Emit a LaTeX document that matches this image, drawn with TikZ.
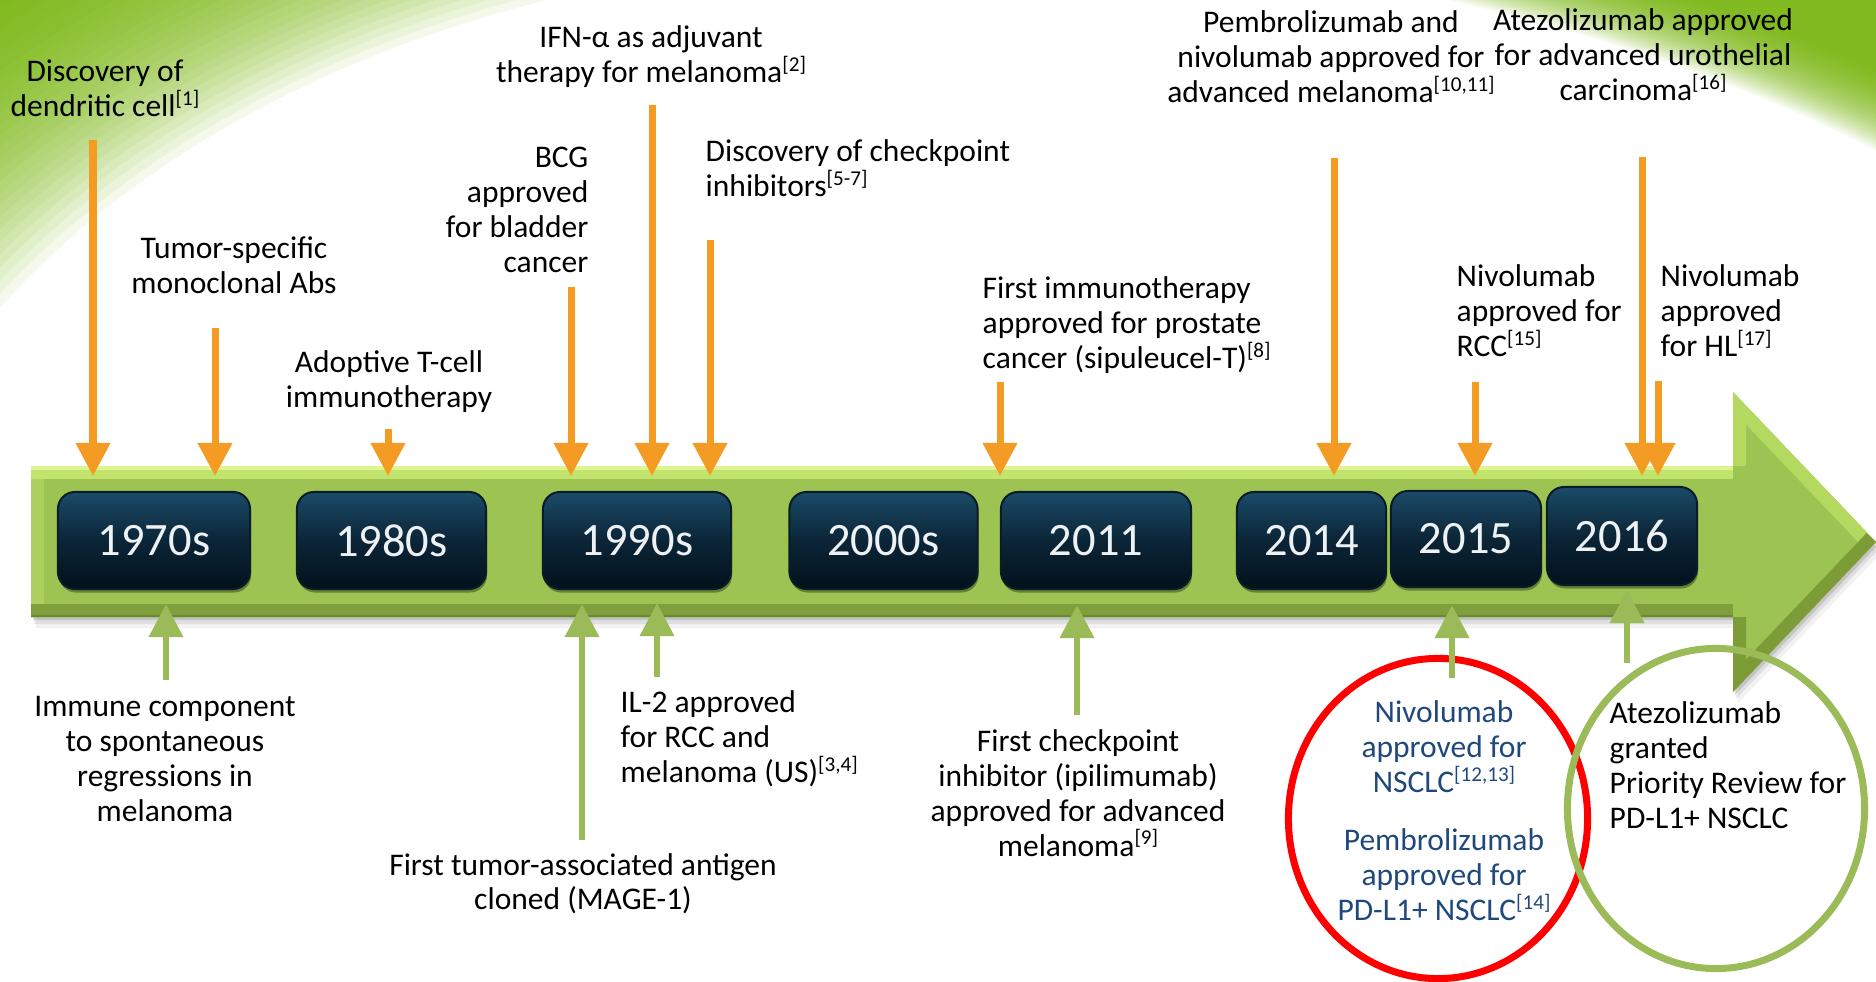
\documentclass[tikz,border=0pt]{standalone}
\usepackage{fontspec}
\setmainfont{Carlito}
\usetikzlibrary{arrows.meta,shadows,shapes.geometric}
\definecolor{orangeC}{HTML}{F39B22}
\definecolor{greenA}{HTML}{9BBB59}
\definecolor{bodyC}{HTML}{9DC452}
\definecolor{bevTop}{HTML}{C2E36C}
\definecolor{bevTopEdge}{HTML}{DDF590}
\definecolor{bevLeft}{HTML}{ADD05E}
\definecolor{bevBot}{HTML}{7E9F3C}
\definecolor{bevBotEdge}{HTML}{6A8A30}
\definecolor{headUp}{HTML}{B3D961}
\definecolor{headDown}{HTML}{7C9C38}
\definecolor{boxTop}{HTML}{1B4B68}
\definecolor{boxMid}{HTML}{0B2537}
\definecolor{boxBot}{HTML}{03111B}
\definecolor{boxLine}{HTML}{0A1C28}
\definecolor{yearTxt}{HTML}{EDF1F3}
\definecolor{blueTxt}{HTML}{1F497D}
\definecolor{redC}{HTML}{FF0000}
\definecolor{swdeep}{HTML}{6FB000}
\newcommand\rf[1]{\raisebox{3.2pt}{\fontsize{6}{7}\selectfont[#1]}}
\tikzset{
  txt/.style={font=\fontsize{8.96}{9.87}\selectfont, inner sep=0pt, align=center, anchor=base},
  txtl/.style={txt, align=left, anchor=base west},
  txtr/.style={txt, align=right, anchor=base east},
  yearbox/.style={rounded corners=0.17cm, draw=boxLine, line width=0.02cm, top color=boxTop, bottom color=boxBot, middle color=boxMid, text=yearTxt, font=\fontsize{13.2}{15}\selectfont, inner sep=0pt, drop shadow={shadow xshift=0.01cm, shadow yshift=-0.035cm, opacity=0.35, fill=black}},
  oarr/.style={draw=orangeC, line width=0.07cm, -{Triangle[width=0.33cm,length=0.33cm]}},
  garr/.style={draw=greenA, line width=0.065cm, -{Triangle[width=0.33cm,length=0.33cm]}},
  arrowshape/.style={insert path={(31,466) -- (1733,466) -- (1733,392) -- (1876,542) -- (1733,692) -- (1733,617) -- (31,617) -- cycle}},
  bev/.style={line width=0.26cm, line cap=square},
  swlayer/.style={fill=swdeep, opacity=#1, even odd rule}
}
\begin{document}
\setlength{\lineskiplimit}{-10pt}
\begin{tikzpicture}[x=0.01cm, y=-0.01cm]
\useasboundingbox (0,0) rectangle (1876,982);
% background swoosh (layers of translucent green outside a large ellipse)
\begin{scope}
\clip (0,0) rectangle (940,982);
\foreach \s in {1.00,1.01,...,1.305} {
  \fill[swlayer=0.075] (-3000,-3000) rectangle (5000,5000) (900,700) ellipse ({1060*\s} and {742*\s});
}
\end{scope}
\begin{scope}
\clip (940,0) rectangle (1876,982);
\foreach \s in {1.00,1.0027,...,1.081} {
  \fill[swlayer=0.065] (-3000,-3000) rectangle (5000,5000) (900,700) ellipse ({1416*\s} and {759*\s});
}
\end{scope}
% timeline arrow
\fill[black, opacity=0.05, shift={(5,11)}, arrowshape];
\fill[black, opacity=0.08, shift={(3,7)}, arrowshape];
\fill[black, opacity=0.12, shift={(2,3)}, arrowshape];
\fill[bodyC, arrowshape];
\begin{scope}
\clip[arrowshape];
\draw[bev, bevLeft] (31,466) -- (31,617);
\draw[bev, bevTop] (31,466) -- (1733,466);
\draw[bevTopEdge, line width=0.07cm] (31,466) -- (1733,466);
\draw[bev, bevBot] (31,617) -- (1733,617);
\draw[bevBotEdge, line width=0.05cm] (31,617) -- (1733,617);
\draw[bev, headUp] (1733,466) -- (1733,392) -- (1876,542);
\draw[bev, headDown] (1876,542) -- (1733,692) -- (1733,617);
\end{scope}
% year boxes
\node[yearbox, minimum width=1.92cm, minimum height=0.97cm] (y1970) at (154,540.5) {1970s};
\node[yearbox, minimum width=1.89cm, minimum height=0.97cm] (y1980) at (391.5,540.5) {1980s};
\node[yearbox, minimum width=1.88cm, minimum height=0.97cm] (y1990) at (637,540.5) {1990s};
\node[yearbox, minimum width=1.88cm, minimum height=0.97cm] (y2000) at (883.5,540.5) {2000s};
\node[yearbox, minimum width=1.90cm, minimum height=0.97cm] (y2011) at (1096,540.5) {2011};
\node[yearbox, minimum width=1.49cm, minimum height=0.97cm] (y2014) at (1311.5,540.5) {2014};
\node[yearbox, minimum width=1.50cm, minimum height=0.96cm] (y2015) at (1466,539) {2015};
\node[yearbox, minimum width=1.50cm, minimum height=0.98cm] (y2016) at (1622,536) {2016};
% ellipses
\node[draw=redC, line width=0.07cm, ellipse, minimum width=2.99cm, minimum height=3.2cm, inner sep=0pt] (redring) at (1438,818.5) {};
\node[draw=greenA, line width=0.07cm, ellipse, minimum width=2.97cm, minimum height=3.2cm, inner sep=0pt] (greenring) at (1716,808.5) {};
% top texts (anchor = baseline of last line)
\node[txt] (t1) at (105,116.7) {Discovery of\\dendritic cell\rf{1}};
\node[txt] (t2) at (234,293.7) {Tumor-specific\\monoclonal Abs};
\node[txt] (t3) at (389,407.7) {Adoptive T-cell\\immunotherapy};
\node[txtr] (t4) at (589,272.1) {BCG\\approved\\for bladder\\cancer};
\node[txt] (t5) at (651,82.7) {IFN-α as adjuvant\\therapy for melanoma\rf{2}};
\node[txtl] (t6) at (705,196.7) {Discovery of checkpoint\\inhibitors\rf{5-7}};
\node[txtl] (t7) at (982,368.4) {First immunotherapy\\approved for prostate\\cancer (sipuleucel-T)\rf{8}};
\node[txt] (t8) at (1331,102.4) {Pembrolizumab and\\nivolumab approved for\\advanced melanoma\rf{10,11}};
\node[txt] (t9) at (1643,100.4) {Atezolizumab approved\\for advanced urothelial\\carcinoma\rf{16}};
\node[txtl] (t10) at (1456,356.4) {Nivolumab\\approved for\\RCC\rf{15}};
\node[txtl] (t11) at (1660,356.4) {Nivolumab\\approved\\for HL\rf{17}};
% bottom texts
\node[txt] (b1) at (165,821.1) {Immune component\\to spontaneous\\regressions in\\melanoma};
\node[txt] (b2) at (583,909.7) {First tumor-associated antigen\\cloned (MAGE-1)};
\node[txtl] (b3) at (620,782.4) {IL-2 approved\\for RCC and\\melanoma (US)\rf{3,4}};
\node[txt] (b4) at (1078,856.1) {First checkpoint\\inhibitor (ipilimumab)\\approved for advanced\\melanoma\rf{9}};
\node[txt, text=blueTxt] (b5) at (1444,792.4) {Nivolumab\\approved for\\NSCLC\rf{12,13}};
\node[txt, text=blueTxt] (b6) at (1444,920.4) {Pembrolizumab\\approved for\\PD-L1+ NSCLC\rf{14}};
\node[txtl] (b7) at (1609,828.1) {Atezolizumab\\granted\\Priority Review for\\PD-L1+ NSCLC};
% orange arrows
\foreach \n/\x/\y in {1/93/140, 2/215/328, 3/388/429, 4/571/287, 5/652/105, 6/710/240, 7/1000/382, 8/1334/158, 9/1475/382, 10/1642/157, 11/1658/381} {
  \coordinate (os\n) at (\x,\y);
  \coordinate (oe\n) at (\x,476);
  \draw[oarr] (os\n) -- (oe\n);
}
% green arrows
\foreach \n/\x/\yb/\yt in {1/166/680/604, 2/582/840/604, 3/657/677/603, 4/1077/715/605, 5/1452/678/605, 6/1627/663/590} {
  \coordinate (gs\n) at (\x,\yb);
  \coordinate (ge\n) at (\x,\yt);
  \draw[garr] (gs\n) -- (ge\n);
}
\end{tikzpicture}
\end{document}
